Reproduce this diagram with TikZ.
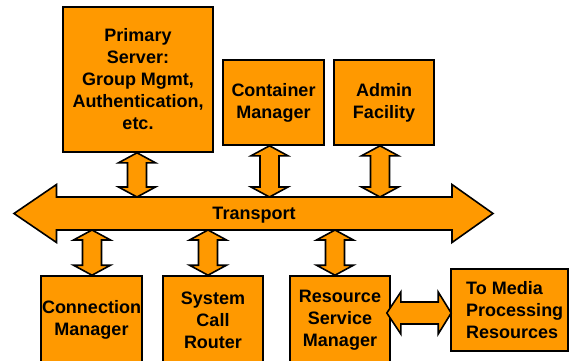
\documentclass[tikz,border=0pt]{standalone}
\usepackage{fontspec}
\setmainfont{Liberation Sans}
\usetikzlibrary{calc}
\definecolor{orng}{RGB}{255,153,0}
\tikzset{
  box/.style={draw=black, fill=orng, line width=1.6bp, rectangle, inner sep=0pt, align=center,
    font=\bfseries\fontsize{18bp}{22bp}\selectfont},
  fat/.style={draw=black, fill=orng, line width=1.6bp, line join=miter},
  lbl/.style={inner sep=0pt, font=\bfseries\fontsize{18bp}{22bp}\selectfont}
}
% vertical fat double arrow between #1 (top) and #2 (bottom), same x
\newcommand\vfat[2]{%
  \draw[fat] (#1) -- ($(#1)+(18.5,10)$) -- ($(#1)+(9.5,10)$) -- ($(#2)+(9.5,-10)$) --
    ($(#2)+(18.5,-10)$) -- (#2) -- ($(#2)+(-18.5,-10)$) -- ($(#2)+(-9.5,-10)$) --
    ($(#1)+(-9.5,10)$) -- ($(#1)+(-18.5,10)$) -- cycle;}
\begin{document}
\begin{tikzpicture}[x=1bp, y=-1bp]
\useasboundingbox (0,0) rectangle (569,360);
\clip (0,0) rectangle (569,360);
\fill[white] (0,0) rectangle (569,360);

% boxes
\node[box, minimum width=150bp, minimum height=145bp] (primary) at (138,79.5)
  {Primary\\Server:\\Group Mgmt,\\Authentication,\\etc.};
\node[box, minimum width=101bp, minimum height=85bp] (container) at (273.5,102.5)
  {Container\\Manager};
\node[box, minimum width=100bp, minimum height=85bp] (admin) at (384,102.5)
  {Admin\\Facility};
\node[box, minimum width=101bp, minimum height=88bp] (conn) at (91.5,320)
  {Connection\\Manager};
\node[box, minimum width=100bp, minimum height=88bp] (scr) at (213,320)
  {System\\Call\\Router};
\node[box, minimum width=100bp, minimum height=88bp] (rsm) at (340,320)
  {Resource\\Service\\Manager};
\node[box, minimum width=117bp, minimum height=82bp] (media) at (509.5,310) {};
\node[lbl, anchor=west, align=left] (mediatext) at (466,310.5)
  {To Media\\Processing\\Resources};

% transport arrow
\coordinate (tl) at (14,213.5);
\coordinate (tr) at (493,213.5);
\coordinate (ttop) at (254,197);
\coordinate (tbot) at (254,230);
\draw[fat] (tl) -- ($(tl)+(42.5,-29)$) -- ($(tl)+(42.5,-16.5)$) -- ($(tr)+(-41,-16.5)$) --
  ($(tr)+(-41,-29)$) -- (tr) -- ($(tr)+(-41,29)$) -- ($(tr)+(-41,16.5)$) --
  ($(tl)+(42.5,16.5)$) -- ($(tl)+(42.5,29)$) -- cycle;
\node[lbl] (transport) at (254,215) {Transport};

% vertical connectors
\coordinate (a1) at ($(primary.south)+(-1,0)$);
\coordinate (a2) at ($(container.south)+(-4,0)$);
\coordinate (a3) at ($(admin.south)+(-4,0)$);
\coordinate (b1) at ($(conn.north)+(0.5,0)$);
\coordinate (b2) at ($(scr.north)+(-5,0)$);
\coordinate (b3) at ($(rsm.north)+(-5,0)$);
\vfat{a1}{a1 |- ttop}
\vfat{a2}{a2 |- ttop}
\vfat{a3}{a3 |- ttop}
\vfat{b1 |- tbot}{b1}
\vfat{b2 |- tbot}{b2}
\vfat{b3 |- tbot}{b3}

% horizontal connector
\coordinate (h1) at ($(rsm.east)+(-4,-7)$);
\coordinate (h2) at ($(media.west)+(1,3)$);
\draw[fat] (h1) -- ($(h1)+(14,-21)$) -- ($(h1)+(14,-11)$) -- ($(h2)+(-13,-11)$) --
  ($(h2)+(-13,-21)$) -- (h2) -- ($(h2)+(-13,21)$) -- ($(h2)+(-13,11)$) --
  ($(h1)+(14,11)$) -- ($(h1)+(14,21)$) -- cycle;
\end{tikzpicture}
\end{document}
